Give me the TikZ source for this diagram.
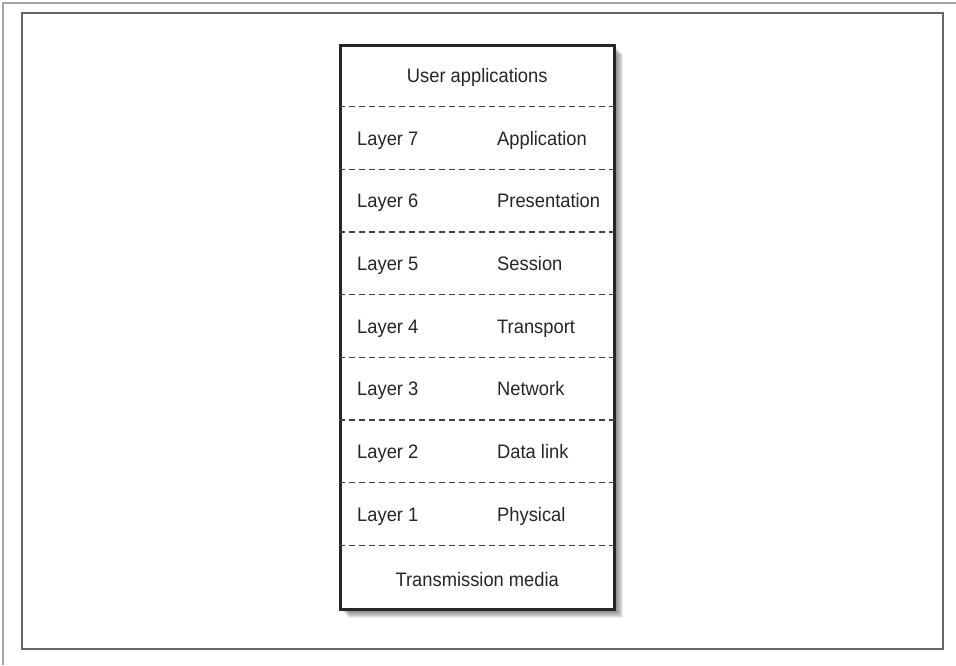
\documentclass[tikz,border=0pt]{standalone}
\usepackage{fontspec}
\setmainfont{Liberation Sans}[FakeStretch=0.94]
\usetikzlibrary{positioning}

\begin{document}
\begin{tikzpicture}[x=1pt, y=-1pt]
			\def\rowh{62.67}
			\tikzstyle{lbl}=[inner sep=0pt, font=\fontsize{19.5}{22}\selectfont, text=black!85]
			\tikzstyle{sep}=[black!75, line width=1.1pt, dash pattern=on 6pt off 4pt]
			\useasboundingbox (0,0) rectangle (956,665);
			\draw[black!35, line width=1.5pt] (3,665) -- (3,3) -- (956,3);
			\draw[black!60, line width=2pt] (22,13) rectangle (943,649);
			\foreach \i in {1,...,10}
				\fill[black, opacity=0.075] (339+\i,44+\i) rectangle (613+\i,608+\i);
			\node[draw=black!85, line width=2.5pt, fill=white, inner sep=0pt, minimum width=274pt, minimum height=564pt, anchor=north west] (stack) at (339,44) {};
			\foreach \k in {1,...,8}
				\draw[sep] ([yshift=-\k*\rowh pt]stack.north west) -- ([yshift=-\k*\rowh pt]stack.north east);
			\node[lbl, anchor=base] (user) at ([yshift=-0.5*\rowh pt - 7pt]stack.north) {User applications};
			\foreach \n/\name [count=\r] in {7/Application, 6/Presentation, 5/Session, 4/Transport, 3/Network, 2/Data link, 1/Physical} {
				\node[lbl, anchor=base west] (layer\n) at (357, 44+\r*\rowh+0.5*\rowh+7) {Layer \n};
				\node[lbl, anchor=base west] (name\n) at (497, 44+\r*\rowh+0.5*\rowh+7) {\name};
			}
			\node[lbl, anchor=base] (media) at ([yshift=0.5*\rowh pt - 7pt]stack.south) {Transmission media};
		\end{tikzpicture}
\end{document}
